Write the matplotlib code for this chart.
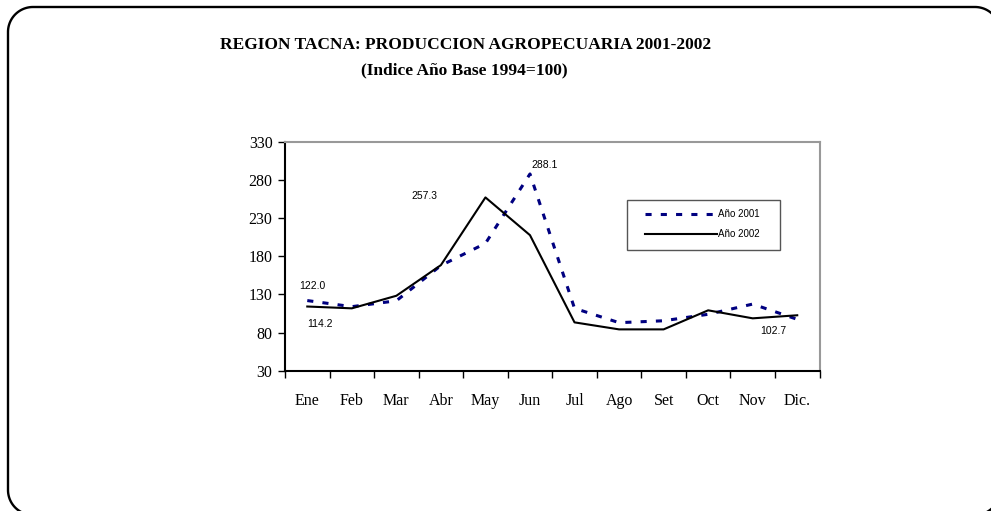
import matplotlib
matplotlib.use("Agg")
import numpy as np
import matplotlib.pyplot as plt
from matplotlib.patches import Rectangle
from matplotlib.lines import Line2D

months = ["Ene", "Feb", "Mar", "Abr", "May", "Jun", "Jul", "Ago", "Set", "Oct", "Nov", "Dic."]
anio_2001 = [122.0, 114.0, 121.7, 168.0, 197.0, 288.1, 111.8, 93.0, 95.5, 104.0, 117.4, 97.4]
anio_2002 = [114.2, 111.8, 128.3, 168.5, 257.3, 207.8, 93.4, 84.2, 84.2, 109.2, 98.7, 102.7]
yticks = [30, 80, 130, 180, 230, 280, 330]
series_names = ["Año 2001", "Año 2002"]

W, H = 991, 511
fig = plt.figure(figsize=(W / 100, H / 100), dpi=100)
fig.patch.set_facecolor("white")

serif = ["Liberation Serif", "DejaVu Serif"]
sans = ["Liberation Sans", "DejaVu Sans"]

title_kw = dict(ha="center", va="center", family=serif, fontweight="bold", fontsize=12.5)
fig.text(466 / W, 1 - 45 / H, "REGION TACNA: PRODUCCION AGROPECUARIA 2001-2002", **title_kw)
fig.text(464 / W, 1 - 70 / H, "(Indice Año Base 1994=100)", **title_kw)

ax = fig.add_axes([285 / W, 1 - 370.7 / H, (819.5 - 285) / W, (370.7 - 142) / H])
x = list(range(len(months)))
style_2001 = dict(color="#000080", linewidth=2.2, linestyle=(0, (2, 3)))
style_2002 = dict(color="black", linewidth=1.5)
ax.plot(x, anio_2001, **style_2001)
ax.plot(x, anio_2002, **style_2002)

ax.set_xlim(-0.5, len(months) - 0.5)
ax.set_ylim(30, 330)
ax.set_yticks(yticks)
ax.set_yticklabels([str(v) for v in yticks], family=serif, fontsize=11.5)
ax.set_xticks([i - 0.5 for i in range(len(months) + 1)], minor=False)
ax.set_xticklabels([])
ax.set_xticks(x, minor=True)
ax.set_xticklabels(months, minor=True, family=serif, fontsize=11.5)
ax.tick_params(axis="x", which="minor", length=0, pad=16)
ax.tick_params(axis="x", which="major", length=5, width=1, direction="out")
ax.tick_params(axis="y", length=5, width=1, direction="out", pad=4)

for side in ("top", "right"):
    ax.spines[side].set_color("#999999")
    ax.spines[side].set_linewidth(1.5)
for side in ("left", "bottom"):
    ax.spines[side].set_color("black")
    ax.spines[side].set_linewidth(1.5)

# value labels
lab_kw = dict(family=sans, fontsize=7.5, ha="center", va="center", textcoords="offset pixels")
ax.annotate(f"{anio_2001[0]:.1f}", (0, anio_2001[0]), xytext=(5, 15), **lab_kw)
ax.annotate(f"{anio_2002[0]:.1f}", (0, anio_2002[0]), xytext=(13, -17), **lab_kw)
ax.annotate(f"{anio_2002[4]:.1f}", (4, anio_2002[4]), xytext=(-61, 1), **lab_kw)
ax.annotate(f"{anio_2001[5]:.1f}", (5, anio_2001[5]), xytext=(15, 9), **lab_kw)
ax.annotate(f"{anio_2002[11]:.1f}", (11, anio_2002[11]), xytext=(-24, -16), **lab_kw)

# overlay layer in pixel units (y measured from top) for frame and key
ov = fig.add_axes([0, 0, 1, 1], zorder=10)
ov.set_xlim(0, W)
ov.set_ylim(H, 0)
ov.axis("off")

# rounded frame: corners traced with arcs, right and bottom edges run past the canvas
left, top, right, bottom, r = 8, 7, 1000, 515, 25


def arc(cx, cy, a0, a1, n=30):
    t = np.radians(np.linspace(a0, a1, n))
    return cx + r * np.cos(t), cy - r * np.sin(t)


pts_x, pts_y = [], []
for (cx, cy, a0, a1) in [(right - r, top + r, 0, 90), (left + r, top + r, 90, 180),
                         (left + r, bottom - r, 180, 270), (right - r, bottom - r, 270, 360)]:
    ax_, ay_ = arc(cx, cy, a0, a1)
    pts_x.extend(ax_)
    pts_y.extend(ay_)
pts_x.append(pts_x[0])
pts_y.append(pts_y[0])
ov.add_line(Line2D(pts_x, pts_y, color="black", linewidth=1.7, clip_on=False))

ov.add_patch(Rectangle((627, 200), 780 - 627, 50, facecolor="white",
                       edgecolor="#555555", linewidth=1.0))
for (yk, style, name) in [(214, style_2001, series_names[0]), (234, style_2002, series_names[1])]:
    ov.add_line(Line2D([645, 717], [yk, yk], **style))
    ov.text(718, yk, name, family=sans, fontsize=7, ha="left", va="center")

fig.savefig("out.png", dpi=100, facecolor="white")
